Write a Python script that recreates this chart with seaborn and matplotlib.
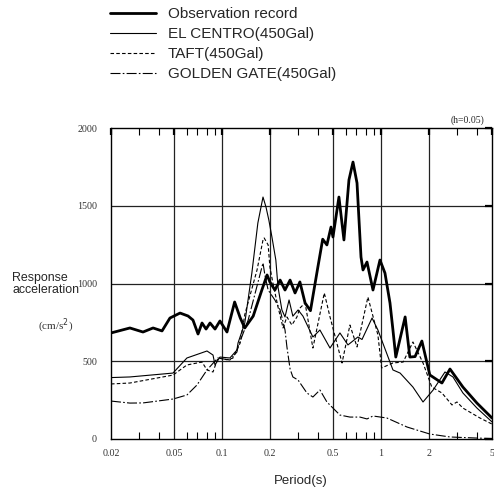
import numpy as np
import pandas as pd
import matplotlib
matplotlib.use("Agg")
import matplotlib.pyplot as plt
from matplotlib.ticker import FixedLocator, FixedFormatter, NullFormatter
import seaborn as sns

# ---------------- data ----------------
obs_period = [0.020, 0.0263, 0.0318, 0.0368, 0.0419, 0.047, 0.0544, 0.0611, 0.0656, 0.0706,
              0.0748, 0.0793, 0.084, 0.0903, 0.097, 0.1074, 0.12, 0.130, 0.139, 0.157,
              0.178, 0.192, 0.200, 0.215, 0.232, 0.249, 0.268, 0.288, 0.309, 0.333,
              0.36, 0.40, 0.43, 0.457, 0.485, 0.499, 0.544, 0.585, 0.629, 0.667,
              0.707, 0.749, 0.771, 0.817, 0.891, 0.986, 1.06, 1.14, 1.19, 1.24,
              1.42, 1.52, 1.64, 1.81, 2.03, 2.42, 2.72, 3.28, 4.02, 5.0]
obs_accel = [682, 714, 688, 714, 695, 778, 810, 791, 765, 675,
             746, 707, 746, 707, 759, 688, 881, 780, 714, 790,
             958, 1055, 1010, 958, 1022, 958, 1022, 939, 1010, 875,
             825, 1100, 1285, 1248, 1363, 1299, 1556, 1280, 1666, 1781,
             1646, 1170, 1087, 1138, 958, 1151, 1067, 875, 701, 527,
             785, 527, 530, 630, 412, 360, 450, 334, 231, 135]

elc_period = [0.020, 0.0263, 0.0491, 0.0601, 0.0804, 0.0877, 0.0903, 0.097, 0.112, 0.124,
              0.126, 0.139, 0.154, 0.168, 0.181, 0.189, 0.197, 0.206, 0.218, 0.225,
              0.238, 0.249, 0.264, 0.279, 0.301, 0.323, 0.373, 0.413, 0.478, 0.552,
              0.620, 0.716, 0.76, 0.879, 0.957, 1.19, 1.32, 1.59, 1.84, 2.13,
              2.53, 2.84, 3.28, 4.02, 5.0]
elc_accel = [395, 399, 424, 521, 566, 540, 476, 527, 521, 572,
             617, 746, 1067, 1389, 1556, 1492, 1408, 1299, 1151, 977,
             830, 785, 894, 790, 830, 790, 656, 701, 585, 682,
             605, 656, 640, 778, 701, 444, 424, 334, 238, 315,
             431, 399, 296, 199, 110]

taft_period = [0.020, 0.0263, 0.0491, 0.0601, 0.0748, 0.0804, 0.0877, 0.0942, 0.107, 0.117,
               0.130, 0.139, 0.166, 0.181, 0.184, 0.195, 0.200, 0.209, 0.225, 0.238,
               0.242, 0.256, 0.275, 0.296, 0.309, 0.333, 0.373, 0.44, 0.478, 0.569,
               0.638, 0.707, 0.828, 0.957, 1.01, 1.19, 1.38, 1.59, 1.84, 2.09,
               2.42, 2.80, 3.01, 3.28, 4.20, 5.0]
taft_accel = [354, 360, 411, 476, 495, 444, 431, 521, 510, 520,
              617, 800, 1087, 1280, 1293, 1248, 1106, 1003, 849, 746,
              714, 785, 733, 785, 842, 875, 585, 939, 785, 489,
              733, 592, 913, 669, 457, 489, 495, 624, 489, 334,
              296, 219, 238, 199, 135, 96]

gg_period = [0.020, 0.0263, 0.0318, 0.0491, 0.0601, 0.0695, 0.0804, 0.094, 0.112, 0.124,
             0.126, 0.146, 0.181, 0.186, 0.195, 0.215, 0.232, 0.249, 0.256, 0.268,
             0.279, 0.301, 0.342, 0.373, 0.413, 0.457, 0.552, 0.638, 0.738, 0.817,
             0.891, 1.09, 1.46, 2.03, 2.72, 4.02, 5.0]
gg_accel = [244, 231, 232, 257, 283, 347, 444, 521, 508, 559,
            592, 765, 1132, 1055, 958, 894, 830, 701, 592, 450,
            399, 379, 296, 270, 315, 238, 154, 141, 141, 129,
            148, 135, 77, 32, 13, 6, 3]

series_names = ["Observation record", "EL CENTRO(450Gal)", "TAFT(450Gal)", "GOLDEN GATE(450Gal)"]

x_major = [0.02, 0.05, 0.1, 0.2, 0.5, 1, 2, 5]
x_major_labels = ["0.02", "0.05", "0.1", "0.2", "0.5", "1", "2", "5"]
x_minor = [0.03, 0.04, 0.06, 0.07, 0.08, 0.09, 0.3, 0.4, 0.6, 0.7, 0.8, 0.9, 3, 4]
y_ticks = [0, 500, 1000, 1500, 2000]
y_tick_labels = ["0", "500", "1000", "1500", "2000"]

# ---------------- figure ----------------
sns.set_style("white")
plt.rcParams["font.family"] = ["Liberation Sans", "DejaVu Sans"]

W, H = 494, 491
fig = plt.figure(figsize=(W / 100, H / 100), dpi=100)
ax = fig.add_axes([111 / W, 1 - 439 / H, (492 - 111) / W, (439 - 128) / H])

frames = []
for name, p, a in [(series_names[0], obs_period, obs_accel),
                   (series_names[1], elc_period, elc_accel),
                   (series_names[2], taft_period, taft_accel),
                   (series_names[3], gg_period, gg_accel)]:
    frames.append(pd.DataFrame({"period": p, "accel": a, "series": name}))
df = pd.concat(frames, ignore_index=True)

styles = {
    series_names[0]: dict(lw=2.0, ls="-"),
    series_names[1]: dict(lw=0.8, ls="-"),
    series_names[2]: dict(lw=0.8, ls=(0, (3.2, 2.0))),
    series_names[3]: dict(lw=0.8, ls=(0, (9, 2, 1.5, 2))),
}
for name in series_names:
    sub = df[df["series"] == name]
    sns.lineplot(data=sub, x="period", y="accel", ax=ax, color="black",
                 linewidth=styles[name]["lw"], linestyle=styles[name]["ls"],
                 label=name, estimator=None, sort=False, legend=False)

ax.set_xscale("log")
ax.set_xlim(0.02, 5)
ax.set_ylim(0, 2000)

serif = ["Liberation Serif", "DejaVu Serif"]
ax.xaxis.set_major_locator(FixedLocator(x_major))
ax.xaxis.set_major_formatter(FixedFormatter(x_major_labels))
ax.xaxis.set_minor_locator(FixedLocator(x_minor))
ax.xaxis.set_minor_formatter(NullFormatter())
ax.set_yticks(y_ticks)
ax.set_yticklabels(y_tick_labels)
ax.tick_params(axis="both", which="major", direction="in", length=5, width=1.6,
               labelsize=7.2, colors="black", top=True, right=True, pad=7)
ax.tick_params(axis="x", which="minor", direction="in", length=5, width=0.8,
               top=True, bottom=True, colors="black")
for lab in ax.get_xticklabels() + ax.get_yticklabels():
    lab.set_family(serif)
    lab.set_color("#333333")
ax.tick_params(axis="y", pad=10)

for v in [0.05, 0.1, 0.2, 0.5, 1, 2]:
    ax.axvline(v, color="#222222", lw=0.9, zorder=0)
for v in [500, 1000, 1500]:
    ax.axhline(v, color="#222222", lw=0.9, zorder=0)

for s in ax.spines.values():
    s.set_visible(True)
    s.set_color("black")
    s.set_linewidth(1.0)

ax.set_xlabel("")
ax.set_ylabel("")

fig.text(301 / W, 1 - 481 / H, "Period(s)", ha="center", va="center", fontsize=9.5)
fig.text(12 / W, 1 - 284 / H, "Response\nacceleration", ha="left", va="center",
         fontsize=8.9, linespacing=1.0)
fig.text(38 / W, 1 - 326 / H, r"(cm/s$^{2}$)", ha="left", va="center",
         fontsize=8, family=serif, color="#333333")
fig.text(484 / W, 1 - 120 / H, "(h=0.05)", ha="right", va="center",
         fontsize=7, family=serif)

handles = ax.get_lines()[:4]
fig.legend(handles=handles, labels=series_names, loc="upper left",
           bbox_to_anchor=(110 / W, 1 - 7 / H), frameon=False, fontsize=11,
           handlelength=3.0, handletextpad=0.8, labelspacing=0.4,
           borderpad=0, borderaxespad=0)

fig.savefig("out.png", dpi=100)
